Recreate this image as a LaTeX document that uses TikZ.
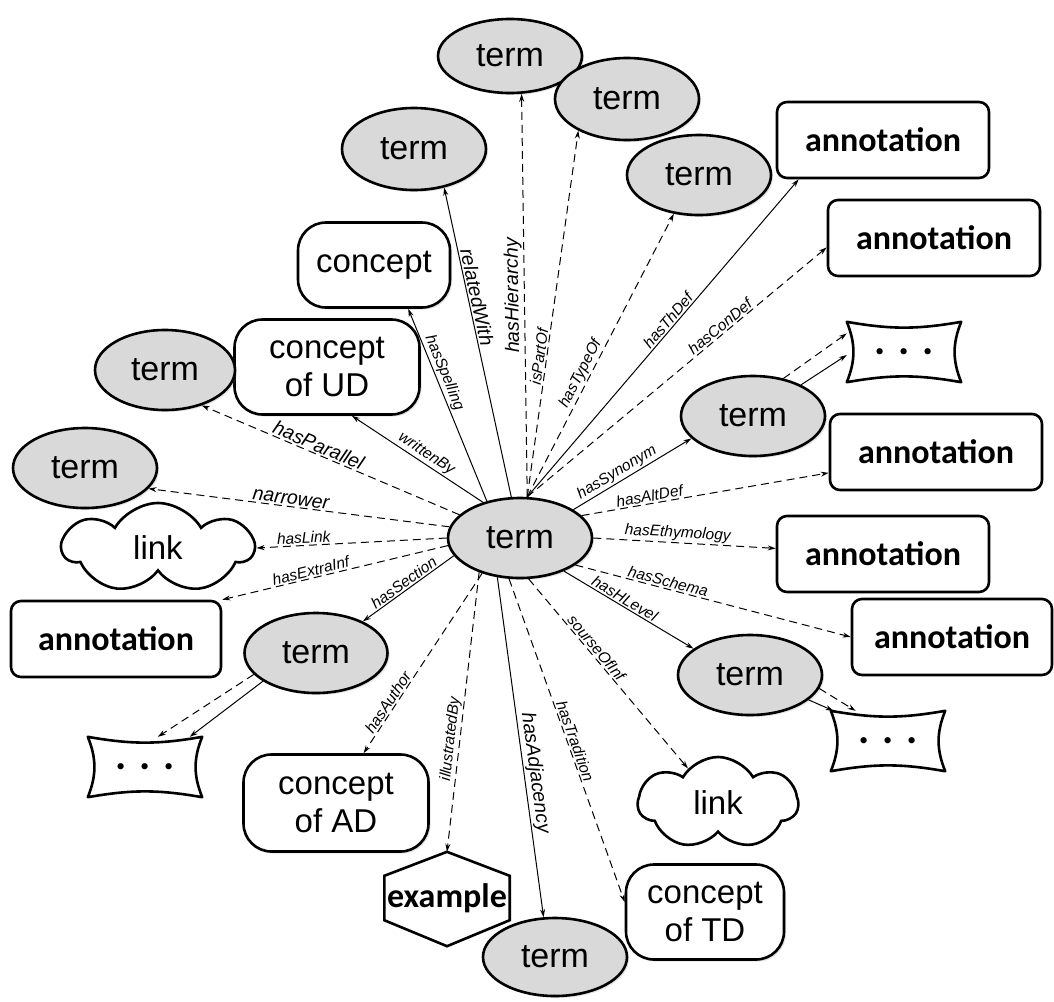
\documentclass[tikz,border=0pt]{standalone}
\usepackage{fontspec}
\setmainfont{Liberation Sans}
\newfontfamily\calibfont{Carlito}
\usetikzlibrary{arrows.meta,shapes.geometric,shapes.symbols,calc,shadows}
\definecolor{tgray}{gray}{0.85}
\newcommand\concavebox[1]{\draw[bline,line join=round] (#1.north west) to[bend right=10] (#1.north east) to[bend right=22] (#1.south east) to[bend right=10] (#1.south west) to[bend right=22] (#1.north west) -- cycle;}
\begin{document}
\begin{tikzpicture}[x=1pt,y=-1pt,
 bline/.style={line width=2.6pt},
 shad/.style={drop shadow={shadow xshift=2pt, shadow yshift=-2pt, opacity=.22}},
 term/.style={ellipse, draw, bline, fill=tgray, shad, minimum width=144pt, minimum height=80pt, inner sep=0pt, font=\fontsize{34}{38}\selectfont},
 concept/.style={rectangle, draw, bline, fill=white, shad, rounded corners=28pt, minimum width=152pt, minimum height=85pt, align=center, inner sep=0pt, font=\fontsize{33}{38}\selectfont},
 annot/.style={rectangle, draw, bline, fill=white, rounded corners=10pt, minimum width=212pt, minimum height=76pt, inner sep=0pt, font=\calibfont\bfseries\fontsize{34}{36}\selectfont},
 linkc/.style={cloud, draw, bline, cloud puffs=7, cloud puff arc=120, aspect=2, minimum width=190pt, minimum height=90pt, inner sep=0pt, font=\fontsize{33}{38}\selectfont},
 dotbox/.style={rectangle, minimum width=114pt, minimum height=60pt, inner sep=0pt, font=\calibfont\bfseries\fontsize{42}{44}\selectfont},
 hexbox/.style={rectangle, minimum width=125pt, minimum height=44pt, inner sep=0pt, font=\calibfont\bfseries\fontsize{34}{36}\selectfont},
 conn/.style={line width=1pt, -{Stealth[length=8pt,width=5pt]}},
 dsh/.style={conn, dash pattern=on 8pt off 5pt},
 lab/.style={sloped, above, inner sep=1.5pt, font=\itshape\fontsize{15.5}{17}\selectfont},
 blab/.style={lab, font=\itshape\fontsize{19.5}{21}\selectfont},
]
\useasboundingbox (0,0) rectangle (1054,1001);

\node[term] (c) at (520,538) {term};
\node[term, minimum height=74pt] (t1) at (510,56) {term};
\node[term, minimum height=82pt] (t2) at (627,99) {term};
\node[term] (t3) at (699,175) {term};
\node[term, minimum height=82pt] (t4) at (414,149) {term};
\node[concept] (cpt) at (374,265) {concept};
\node[concept, minimum width=185pt, minimum height=95pt] (cud) at (327,367) {concept\\of UD};
\node[term, minimum width=140pt] (t5) at (165,370) {term};
\node[term] (t6) at (85,468) {term};
\node[linkc] (lk1) at (158,548) {link};
\node[annot] (an1) at (883,140) {annotation};
\node[annot] (an2) at (934,238) {annotation};
\node[dotbox] (dd1) at (904,352) {. . .};
\concavebox{dd1}
\node[term] (t7) at (753,416) {term};
\node[annot] (an3) at (936,452) {annotation};
\node[annot] (an4) at (883,554) {annotation};
\node[annot, minimum width=200pt] (an5) at (952,637) {annotation};
\node[term] (t8) at (750,675) {term};
\node[dotbox] (dd2) at (888,741) {. . .};
\concavebox{dd2}
\node[linkc, minimum width=160pt, minimum height=92pt] (lk2) at (718,803) {link};
\node[concept, minimum width=158pt, minimum height=95pt] (ctd) at (705,912) {concept\\of TD};
\node[term, minimum height=78pt] (t9) at (555,957) {term};
\node[hexbox] (ex) at (447,898) {example};
\draw[bline, line join=miter] (ex.north west) -- ($(ex.north)+(0,-24)$) -- (ex.north east) -- (ex.south east) -- ($(ex.south)+(0,26)$) -- (ex.south west) -- cycle;
\node[concept, minimum width=185pt, minimum height=97pt] (cad) at (336,803) {concept\\of AD};
\node[dotbox] (dd3) at (145,767) {. . .};
\concavebox{dd3}
\node[term, minimum width=143pt] (t10) at (316,653) {term};
\node[annot, minimum width=210pt] (an6) at (116,639) {annotation};

\draw[conn] (c.102) -- node[blab,pos=.64]{relatedWith} (t4.308);
\draw[dsh] (c.80) -- node[blab,pos=.5,allow upside down]{hasHierarchy} (t1.287);
\draw[dsh] (c.80) -- node[lab,pos=.38]{isPartOf} (t2.213);
\draw[dsh] (c.80) -- node[lab,pos=.42]{hasTypeOf} (t3.237);
\draw[conn] (c.80) -- node[lab,pos=.54]{hasThDef} (an1.205);
\draw[dsh] (c.80) -- node[lab,pos=.66]{hasConDef} (an2.185);
\draw[conn] (c.28) -- node[lab,pos=.41]{hasSynonym} (t7.200);
\draw[dsh] (c.20) -- node[lab,pos=.28]{hasAltDef} (an3.191);
\draw[dsh] (c.0) -- node[lab,pos=.46]{hasEthymology} (an4.177);
\draw[dsh] (c.-26) -- node[lab,pos=.33]{hasSchema} (an5.180);
\draw[conn] (c.-37) -- node[lab,pos=.44]{hasHLevel} (t8.155);
\draw[dsh] (c.-78) -- node[lab,pos=.39]{sourseOfInf} (lk2.131);
\draw[dsh] (c.-105) -- node[lab,pos=.51]{hasTradition} (ctd.173);
\draw[conn] (c.-120) -- node[blab,pos=.58]{hasAdjacency} (t9.106);
\draw[dsh] (c.-140) -- node[lab,pos=.6]{illustratedBy} ($(ex.north)+(0,-24)$);
\draw[dsh] (c.-137) -- node[lab,pos=.74]{hasAuthor} (cad.61);
\draw[conn] (c.195) -- node[lab,pos=.5]{hasSection} (t10.34);
\draw[dsh] (c.186) -- node[lab,pos=.6]{hasExtraInf} (an6.north east);
\draw[dsh] (c.180) -- node[lab,pos=.75]{hasLink} (lk1.east);
\draw[dsh] (c.171) -- node[blab,pos=.53]{narrower} (t6.342);
\draw[dsh] (c.159) -- node[blab,pos=.56]{hasParallel} (t5.316);
\draw[conn] (c.136) -- node[lab,pos=.47]{writtenBy} (cud.297);
\draw[conn] (c.132) -- node[lab,pos=.65]{hasSpelling} (cpt.308);

\draw[dsh] (t7.51) -- (dd1.162);
\draw[conn] (t7.33) -- (dd1.183);
\draw[dsh] (t10.199) -- (dd3.67);
\draw[conn] (t10.208) -- (dd3.34);
\draw[dsh] (t8.-11) -- (dd2.137);
\draw[conn] (t8.-23) -- (dd2.151);
\end{tikzpicture}
\end{document}
